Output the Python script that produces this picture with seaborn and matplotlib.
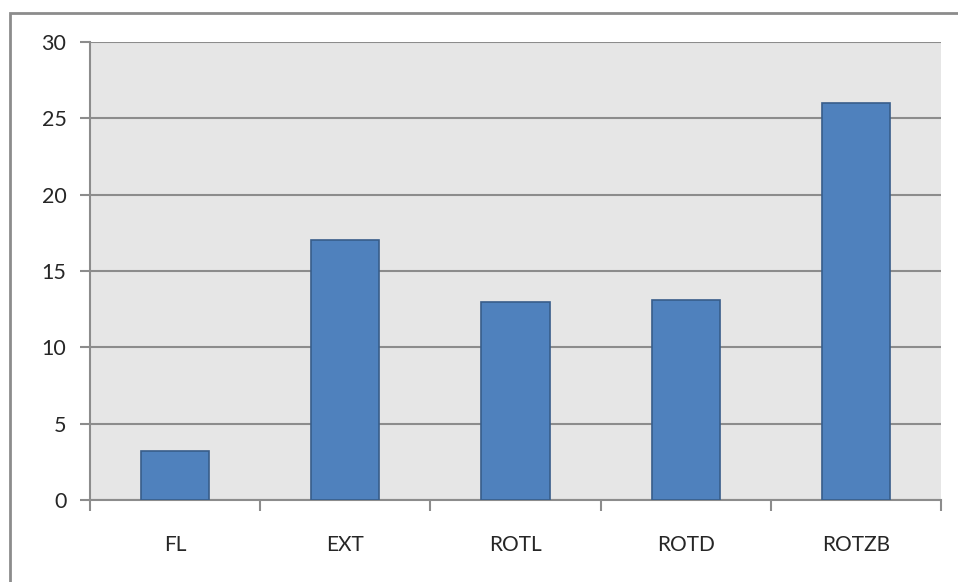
# %% Bibliotecas
import matplotlib
matplotlib.use("Agg")
import matplotlib.pyplot as plt
import seaborn as sns
import pandas as pd

# %% Datos
categorias = ["FL", "EXT", "ROTL", "ROTD", "ROTZB"]
valores = [3.2, 17.0, 13.0, 13.1, 26.0]
y_ticks = [0, 5, 10, 15, 20, 25, 30]

df = pd.DataFrame({"categoria": categorias, "valor": valores})

# %% Gráfico de barras
sns.set_style("white")
plt.rcParams["font.family"] = ["Lato", "DejaVu Sans"]

fig = plt.figure(figsize=(9.58, 5.82), dpi=100)
ax = fig.add_axes([90 / 958, 82 / 582, 851 / 958, 458 / 582])
ax.set_facecolor("#e6e6e6")

sns.barplot(data=df, x="categoria", y="valor", color="#4f81bd",
            edgecolor="#385d8a", linewidth=1.2, width=0.4, saturation=1, ax=ax, zorder=3)

ax.set_xlim(-0.5, len(categorias) - 0.5)
ax.set_ylim(0, 30)
ax.set_yticks(y_ticks)
ax.yaxis.grid(True, color="#8c8c8c", linewidth=1.5, zorder=0)
ax.set_axisbelow(True)
ax.set_xlabel("")
ax.set_ylabel("")

for s in ["top", "right"]:
    ax.spines[s].set_visible(False)
for s in ["left", "bottom"]:
    ax.spines[s].set_color("#8c8c8c")
    ax.spines[s].set_linewidth(1.5)

# marcas entre categorías, estilo Excel
ax.set_xticks([i - 0.5 for i in range(len(categorias) + 1)], minor=False)
ax.set_xticklabels([])
ax.set_xticks(range(len(categorias)), minor=True)
ax.set_xticklabels(categorias, minor=True, fontsize=15)
ax.tick_params(axis="x", which="major", bottom=True, length=8, width=1.5,
               color="#8c8c8c", direction="out")
ax.tick_params(axis="x", which="minor", bottom=True, length=0, pad=25)
ax.tick_params(axis="y", left=True, length=7, width=1.5, color="#8c8c8c",
               direction="out", labelsize=15.5, pad=10)

# borde exterior del gráfico
fig.patches.append(plt.Rectangle((9.5 / 958, -0.05), 1.1, (582 - 12.5) / 582 + 0.05,
                                 transform=fig.transFigure, fill=False,
                                 edgecolor="#8c8c8c", linewidth=2))

fig.savefig("out.png", dpi=100)
